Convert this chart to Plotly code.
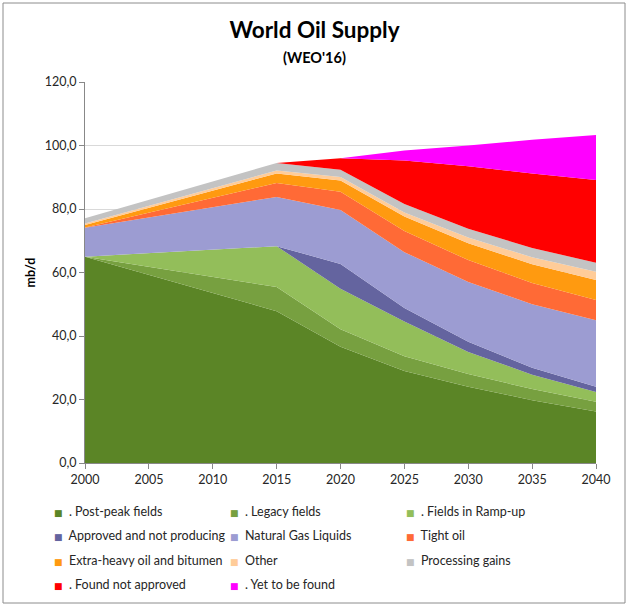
import plotly.graph_objects as go

years = [2000, 2015, 2020, 2025, 2030, 2035, 2040]

series_names = [
    ". Post-peak fields", ". Legacy fields", ". Fields in Ramp-up",
    "Approved and not producing", "Natural Gas Liquids", "Tight oil",
    "Extra-heavy oil and bitumen", "Other", "Processing gains",
    ". Found not approved", ". Yet to be found",
]

post_peak = [65.0, 47.8, 36.6, 29.0, 24.0, 19.8, 16.2]
legacy = [0.0, 7.6, 5.5, 4.6, 4.0, 3.5, 3.1]
ramp_up = [0.0, 12.9, 12.8, 11.0, 7.0, 4.5, 3.1]
approved = [0.0, 0.0, 7.8, 4.2, 3.2, 2.2, 1.6]
ngl = [9.1, 15.5, 17.0, 17.6, 18.8, 20.0, 21.0]
tight_oil = [0.1, 4.4, 5.7, 6.7, 6.9, 6.7, 6.3]
extra_heavy = [0.8, 3.0, 3.6, 4.5, 5.3, 5.9, 6.3]
other = [0.4, 0.9, 1.1, 1.3, 1.8, 2.2, 2.6]
processing_gains = [1.7, 2.4, 2.3, 2.7, 2.8, 2.9, 2.9]
found_not_approved = [0.0, 0.0, 3.6, 13.7, 19.7, 23.5, 26.0]
yet_to_be_found = [0.0, 0.0, 0.0, 3.1, 6.5, 10.6, 14.2]

series_values = [post_peak, legacy, ramp_up, approved, ngl, tight_oil,
                 extra_heavy, other, processing_gains, found_not_approved,
                 yet_to_be_found]

colors = ["#5B8526", "#77A040", "#93BE5A", "#64649F", "#9C9CD2", "#FF6A36",
          "#FF9A10", "#FFCC99", "#C3C3C3", "#FF0000", "#FF00FF"]

y_ticks = [0, 20, 40, 60, 80, 100, 120]
x_ticks = [2000, 2005, 2010, 2015, 2020, 2025, 2030, 2035, 2040]

fig = go.Figure()

for name, vals, col in zip(series_names, series_values, colors):
    fig.add_trace(go.Scatter(
        x=years, y=vals, name=name, stackgroup="one", mode="none",
        fillcolor=col, showlegend=False, hoverinfo="x+y+name",
    ))

# legend entries (3 per row, one legend per row); coloured square as text glyph
legend_ids = ["legend", "legend", "legend", "legend2", "legend2", "legend2",
              "legend3", "legend3", "legend3", "legend4", "legend4"]
for name, col, lg in zip(series_names, colors, legend_ids):
    label = ('<span style="color:%s;font-family:DejaVu Sans;font-size:9px">'
             '\u25A0</span>&nbsp;&nbsp;%s' % (col, name))
    fig.add_trace(go.Scatter(
        x=[None], y=[None], name=label, mode="markers",
        marker=dict(symbol="square", size=1, color="rgba(0,0,0,0)"),
        legend=lg, showlegend=True, hoverinfo="skip",
    ))

W, H = 629, 607
L, R, T, B = 85, 33, 82, 144
pw, ph = W - L - R, H - T - B

def px_x(x):
    return (x - L) / pw

def px_y(y):
    return (H - B - y) / ph

FONT = "Lato, Open Sans, sans-serif"
legend_font = dict(family=FONT, size=12.5, color="#262626")
row_y = [511, 535, 560, 584]
legend_common = dict(orientation="h", xanchor="left", yanchor="middle",
                     x=px_x(14), font=legend_font, entrywidth=131,
                     entrywidthmode="pixels", bgcolor="rgba(0,0,0,0)",
                     traceorder="normal",
                     itemclick=False, itemdoubleclick=False)

fig.update_layout(
    width=W, height=H,
    margin=dict(l=L, r=R, t=T, b=B, autoexpand=False),
    paper_bgcolor="white", plot_bgcolor="white",
    separators=",.",
    font=dict(family=FONT, size=12, color="#262626"),
    title=dict(text="<b>World Oil Supply</b>", x=0.5, xref="container",
               xanchor="center", y=1 - 30 / H, yanchor="middle",
               font=dict(size=22.5, color="#000000", family=FONT)),
    xaxis=dict(range=[2000, 2040], tickvals=x_ticks,
               ticktext=[str(v) for v in x_ticks],
               showgrid=False, zeroline=False, showline=True,
               linecolor="#888888", linewidth=1, ticks="outside",
               ticklen=5, tickcolor="#888888",
               tickfont=dict(size=12.5, color="#262626")),
    yaxis=dict(range=[0, 120], tickvals=y_ticks, tickformat=".1f",
               showgrid=True, gridcolor="#D9D9D9", gridwidth=1,
               zeroline=False, showline=True, linecolor="#888888",
               linewidth=1, ticks="outside", ticklen=5, tickcolor="#888888",
               tickfont=dict(size=12.5, color="#262626"),
               title=dict(text="<b>mb/d</b>", standoff=6,
                          font=dict(size=12.5, color="#000000"))),
    legend=dict(y=px_y(row_y[0]), **legend_common),
    legend2=dict(y=px_y(row_y[1]), **legend_common),
    legend3=dict(y=px_y(row_y[2]), **legend_common),
    legend4=dict(y=px_y(row_y[3]), **legend_common),
    annotations=[dict(text="<b>(WEO'16)</b>", x=px_x(314), y=px_y(57),
                      xref="paper", yref="paper", showarrow=False,
                      xanchor="center", yanchor="middle",
                      font=dict(size=14.5, color="#000000"))],
    shapes=[dict(type="rect", xref="paper", yref="paper",
                 x0=px_x(3), x1=px_x(625), y0=px_y(603), y1=px_y(3),
                 line=dict(color="#8C8C8C", width=1), layer="below")],
)

fig.write_html("out.html", config={"displayModeBar": False},
               post_script="document.body.style.margin='0';")
